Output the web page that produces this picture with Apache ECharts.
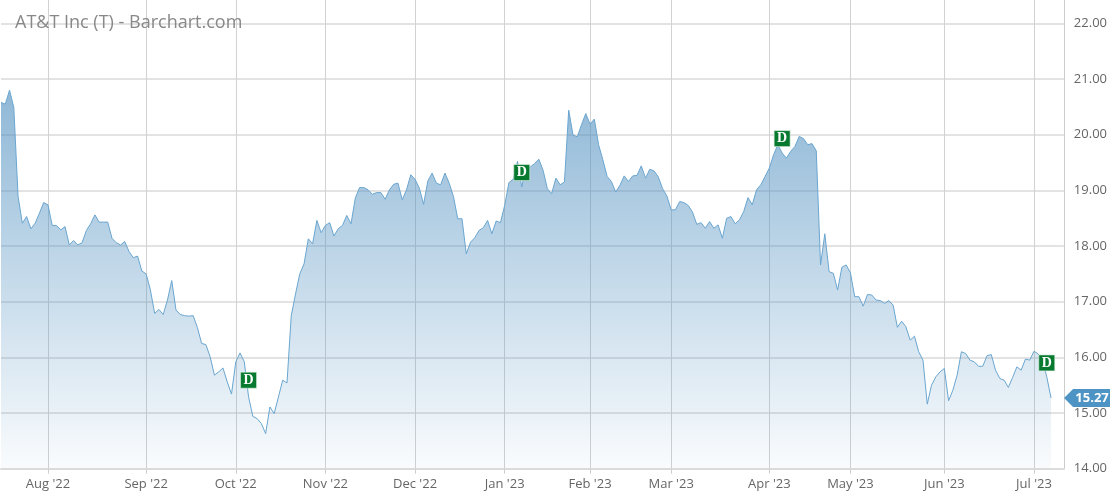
<!DOCTYPE html>
<html><head><meta charset="utf-8">
<script src="https://cdn.jsdelivr.net/npm/echarts@6/dist/echarts.min.js"></script>
<style>html,body{margin:0;padding:0;background:#fff}#c{width:1110px;height:495px}</style>
</head><body><div id="c"></div>
<script>
// Trading days per month (category axis)
const tradingDays = {
  "2022-07": [15,18,19,20,21,22,25,26,27,28,29],
  "2022-08": [1,2,3,4,5,8,9,10,11,12,15,16,17,18,19,22,23,24,25,26,29,30,31],
  "2022-09": [1,2,6,7,8,9,12,13,14,15,16,19,20,21,22,23,26,27,28,29,30],
  "2022-10": [3,4,5,6,7,10,11,12,13,14,17,18,19,20,21,24,25,26,27,28,31],
  "2022-11": [1,2,3,4,7,8,9,10,11,14,15,16,17,18,21,22,23,25,28,29,30],
  "2022-12": [1,2,5,6,7,8,9,12,13,14,15,16,19,20,21,22,23,27,28,29,30],
  "2023-01": [3,4,5,6,9,10,11,12,13,17,18,19,20,23,24,25,26,27,30,31],
  "2023-02": [1,2,3,6,7,8,9,10,13,14,15,16,17,21,22,23,24,27,28],
  "2023-03": [1,2,3,6,7,8,9,10,13,14,15,16,17,20,21,22,23,24,27,28,29,30,31],
  "2023-04": [3,4,5,6,10,11,12,13,14,17,18,19,20,21,24,25,26,27,28],
  "2023-05": [1,2,3,4,5,8,9,10,11,12,15,16,17,18,19,22,23,24,25,26,30,31],
  "2023-06": [1,2,5,6,7,8,9,12,13,14,15,16,20,21,22,23,26,27,28,29,30],
  "2023-07": [3,5,6,7,10,11,12,13]
};
const monthLabels = ["Aug '22","Sep '22","Oct '22","Nov '22","Dec '22","Jan '23","Feb '23","Mar '23","Apr '23","May '23","Jun '23","Jul '23"];
const yTickValues = [14,15,16,17,18,19,20,21,22];

// Daily closes from 2022-07-15 to 2023-07-10
const closes = [
  20.58,20.55,20.80,20.49,18.89,18.41,18.53,18.31,18.41,18.59,18.78,
  18.74,18.37,18.37,18.29,18.35,18.02,18.10,18.02,18.06,18.28,18.40,18.56,18.43,18.43,18.43,18.14,18.06,18.02,18.08,17.90,17.79,17.82,17.55,
  17.50,17.21,16.79,16.86,16.77,17.03,17.38,16.85,16.77,16.75,16.74,16.75,16.54,16.25,16.23,16.01,15.68,15.74,15.81,15.56,15.34,
  15.92,16.08,15.92,15.29,14.94,14.90,14.81,14.63,15.11,14.99,15.29,15.59,15.54,16.75,17.14,17.50,17.68,18.13,18.04,18.46,18.24,
  18.37,18.42,18.18,18.31,18.37,18.55,18.40,18.86,19.05,19.05,19.01,18.93,18.96,18.96,18.84,19.01,19.11,19.13,18.83,19.01,19.28,
  19.20,19.04,18.75,19.17,19.31,19.13,19.10,19.31,19.13,18.89,18.49,18.49,17.86,18.07,18.15,18.28,18.33,18.46,18.22,18.45,18.42,
  18.73,19.14,19.20,19.52,19.06,19.42,19.42,19.48,19.56,19.36,19.03,18.94,19.22,19.10,19.15,20.44,20.00,19.96,20.18,20.38,
  20.19,20.28,19.82,19.55,19.25,19.16,18.97,19.09,19.26,19.16,19.26,19.27,19.44,19.22,19.38,19.35,19.24,19.03,18.90,
  18.65,18.65,18.80,18.78,18.73,18.61,18.39,18.42,18.32,18.44,18.32,18.38,18.14,18.50,18.53,18.40,18.47,18.62,18.87,18.74,19.01,19.10,19.25,
  19.40,19.64,19.82,19.67,19.58,19.70,19.79,19.97,19.93,19.82,19.84,19.71,17.66,18.22,17.54,17.51,17.21,17.62,17.66,
  17.52,17.09,17.09,16.92,17.13,17.12,17.03,17.02,16.97,17.02,16.94,16.54,16.65,16.55,16.31,16.38,16.10,15.95,15.16,15.50,15.65,15.74,
  15.80,15.22,15.41,15.68,16.10,16.07,15.95,15.92,15.84,15.84,16.03,16.05,15.77,15.62,15.59,15.46,15.64,15.83,15.77,15.97,15.95,
  16.11,16.06,15.95,15.65,15.27
];

// Dividend (ex-date) markers
const dividendDates = ["2022-10-06","2023-01-09","2023-04-06","2023-07-07"];
const dividendLevels = [15.59,19.32,19.93,15.90];

const categories = [];
Object.keys(tradingDays).forEach(m => tradingDays[m].forEach(d => categories.push(m + "-" + String(d).padStart(2,"0"))));
const monthStart = {};
let k = 0;
for (let i = 1; i < categories.length; i++) {
  if (categories[i].slice(0,7) !== categories[i-1].slice(0,7)) { monthStart[i] = monthLabels[k++]; }
}
const isMonthStart = (i) => monthStart[i] !== undefined;
const lastIdx = closes.length - 1;

const chart = echarts.init(document.getElementById('c'), null, {renderer: 'canvas'});
chart.setOption({
  animation: false,
  backgroundColor: '#fff',
  textStyle: {fontFamily: 'Open Sans'},
  title: {
    text: 'AT&T Inc (T) - Barchart.com',
    left: 15, top: 14, padding: 0,
    textStyle: {fontFamily: 'Open Sans', fontSize: 18, fontWeight: 'normal', color: '#888'}
  },
  grid: {left: 1, right: 46, top: 0, bottom: 26.3, containLabel: false},
  xAxis: {
    type: 'category',
    data: categories,
    boundaryGap: false,
    axisLine: {show: true, onZero: false, lineStyle: {color: '#dcdcdc', width: 2}},
    axisTick: {show: true, interval: isMonthStart, length: 5, lineStyle: {color: '#cfcfcf'}},
    axisLabel: {
      interval: isMonthStart,
      formatter: (v, i) => monthStart[i] || '',
      color: '#666', fontSize: 13, margin: 9, fontFamily: 'Open Sans'
    },
    splitLine: {show: true, interval: isMonthStart, lineStyle: {color: '#d2d2d2', width: 1}}
  },
  yAxis: {
    type: 'value',
    position: 'right',
    min: yTickValues[0], max: 22.42, interval: 1,
    axisLine: {show: true, lineStyle: {color: '#cccccc', width: 1}},
    axisTick: {show: false},
    axisLabel: {
      showMaxLabel: false,
      formatter: v => v.toFixed(2),
      color: '#666', fontSize: 13, margin: 10, fontFamily: 'Open Sans'
    },
    splitLine: {show: true, showMaxLine: false, lineStyle: {color: '#e3e3e3', width: 2}}
  },
  series: [
    {
      type: 'line',
      data: closes,
      showSymbol: false,
      symbol: 'none',
      lineStyle: {color: '#6aa6d0', width: 1},
      areaStyle: {
        opacity: 1,
        color: new echarts.graphic.LinearGradient(0, 0, 0, 1, [
          {offset: 0, color: 'rgba(74,140,190,0.62)'},
          {offset: 0.5, color: 'rgba(74,140,190,0.32)'},
          {offset: 1, color: 'rgba(74,140,190,0.03)'}
        ])
      },
      markPoint: {
        symbol: 'path://M0,9 L9,0 L50,0 L50,18 L9,18 Z',
        symbolSize: [50, 18],
        symbolOffset: [38, 0],
        itemStyle: {color: '#4d94c4'},
        label: {
          show: true, position: 'inside', offset: [3, 0],
          formatter: p => Number(p.value).toFixed(2),
          color: '#fff', fontWeight: 'bold', fontSize: 13, fontFamily: 'Open Sans'
        },
        data: [{coord: [categories[lastIdx], closes[lastIdx]], value: closes[lastIdx]}]
      },
      z: 2
    },
    {
      type: 'scatter',
      data: dividendDates.map((d, i) => [d, dividendLevels[i]]),
      symbol: 'rect',
      symbolSize: 16,
      itemStyle: {color: '#087a30', opacity: 1, borderColor: '#dfeee3', borderWidth: 0.6},
      label: {
        show: true, position: 'inside', formatter: 'D',
        color: '#fff', fontWeight: 'bold', fontSize: 14, fontFamily: 'Liberation Serif'
      },
      z: 5
    }
  ]
});
</script>
</body></html>
